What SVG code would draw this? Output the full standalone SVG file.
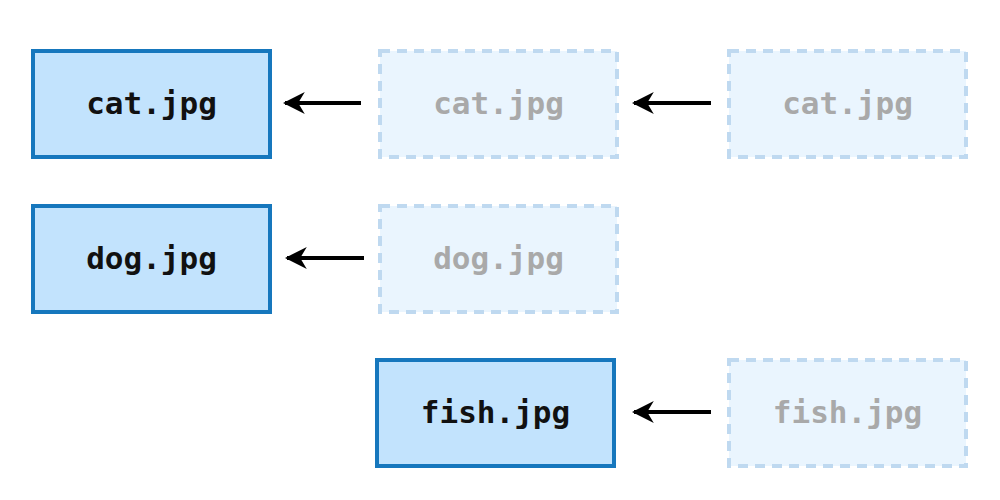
<svg xmlns="http://www.w3.org/2000/svg" width="1000" height="500" viewBox="0 0 1000 500">
<style>
.solid rect{fill:#c2e3fd;stroke:#1677bd;stroke-width:4}
.ghost rect{fill:#eaf5fe;stroke:#bfd9f0;stroke-width:4;stroke-dasharray:10 7}
text{font-family:"DejaVu Sans Mono",monospace;font-weight:bold;font-size:31px;text-anchor:middle}
.solid text{fill:#111}
.ghost text{fill:#a9a9a9}
.conn line{stroke:#000;stroke-width:4;marker-end:url(#ah)}
</style>
<defs>
<marker id="ah" viewBox="0 0 10 10" refX="9" refY="5" markerWidth="5.5" markerHeight="5.5" orient="auto" markerUnits="strokeWidth">
<path d="M0,0 L10,5 L0,10 L3,5 Z" fill="#000"/>
</marker>
</defs>
<g id="cat1" class="solid"><rect x="33" y="51" width="237" height="106"/><text x="151.5" y="114">cat.jpg</text></g>
<g id="cat2" class="ghost"><rect x="380" y="51" width="237" height="106"/><text x="498.5" y="114">cat.jpg</text></g>
<g id="cat3" class="ghost"><rect x="729" y="51" width="237" height="106"/><text x="847.5" y="114">cat.jpg</text></g>
<g id="dog1" class="solid"><rect x="33" y="206" width="237" height="106"/><text x="151.5" y="269">dog.jpg</text></g>
<g id="dog2" class="ghost"><rect x="380" y="206" width="237" height="106"/><text x="498.5" y="269">dog.jpg</text></g>
<g id="fish1" class="solid"><rect x="377" y="360" width="237" height="106"/><text x="495.5" y="423">fish.jpg</text></g>
<g id="fish2" class="ghost"><rect x="729" y="360" width="237" height="106"/><text x="847.5" y="423">fish.jpg</text></g>
<g id="connectors" class="conn">
<line x1="361" y1="103" x2="285" y2="103"/>
<line x1="711" y1="103" x2="634" y2="103"/>
<line x1="364" y1="258" x2="287" y2="258"/>
<line x1="711" y1="412" x2="634" y2="412"/>
</g>
</svg>
